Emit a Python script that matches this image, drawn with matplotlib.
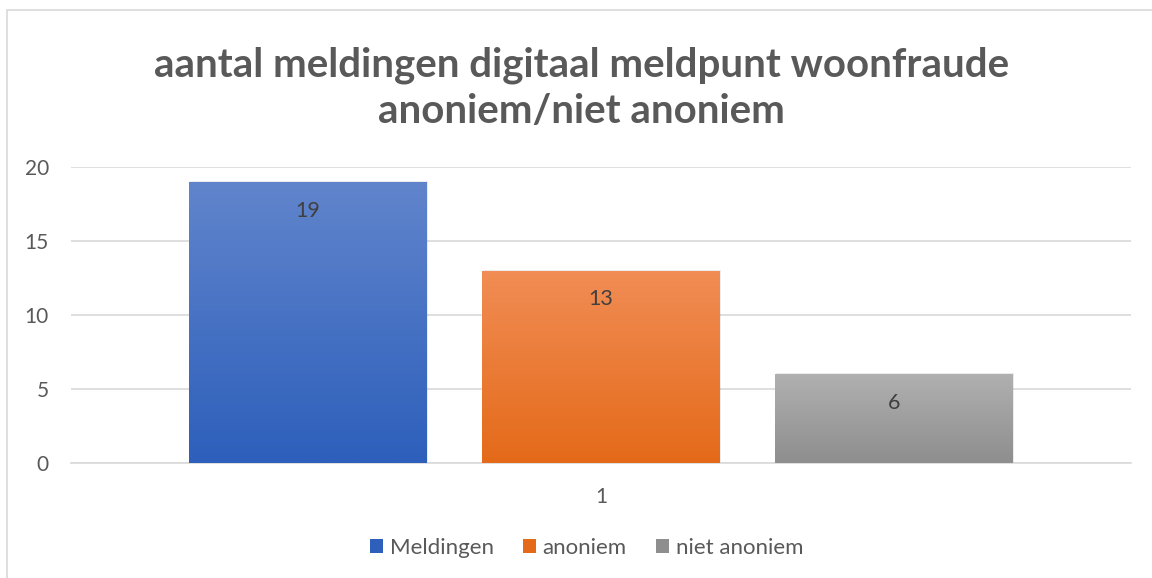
import matplotlib
matplotlib.use('Agg')
import matplotlib.pyplot as plt
import numpy as np
from matplotlib.patches import Rectangle

# data
series = ['Meldingen', 'anoniem', 'niet anoniem']
values = [19, 13, 6]
category = '1'
title = 'aantal meldingen digitaal meldpunt woonfraude\nanoniem/niet anoniem'

# gradient colours (top, bottom)
grad = [('#6185CC', '#2D5FBB'),
        ('#F18D55', '#E46A19'),
        ('#B0B0B0', '#8E8E8E')]

plt.rcParams['font.family'] = ['Lato', 'DejaVu Sans']
text_col = '#595959'

fig = plt.figure(figsize=(11.52, 5.78), dpi=100)
ax = fig.add_axes([71 / 1152, 1 - 463 / 578, 1060 / 1152, 296 / 578])

# chart border
fig.patches.append(Rectangle((7 / 1152, -0.1), 2, 1.1 - 10 / 578,
                             transform=fig.transFigure, fill=False,
                             edgecolor='#D9D9D9', linewidth=1.2))

pos = np.arange(len(series)) - 1
width = 238 / 293
bars = ax.bar(pos, values, width=width, color='none', zorder=3)

gradient = np.linspace(0, 1, 256).reshape(-1, 1)
for b, (top, bot), v, name in zip(bars, grad, values, series):
    cmap = matplotlib.colors.LinearSegmentedColormap.from_list('g', [bot, top])
    x0, y0 = b.get_x(), b.get_y()
    im = ax.imshow(gradient, cmap=cmap, aspect='auto', origin='lower',
                   extent=(x0, x0 + b.get_width(), y0, y0 + b.get_height()),
                   zorder=3)
    im.set_clip_path(b)
    # subtle shadow
    ax.add_patch(Rectangle((x0 + 0.004, y0), b.get_width(), b.get_height() + 0.05,
                           facecolor='#000000', alpha=0.08, edgecolor='none', zorder=2))
    ax.text(b.get_x() + b.get_width() / 2, v - 1.95, str(v), ha='center', va='center',
            fontsize=15.5, color='#404040', zorder=4)
    ax.bar(0, 0, color=bot, label=name)

ax.set_xlim(-530 / 293, 530 / 293)
ax.set_ylim(0, 20)
ax.set_yticks([0, 5, 10, 15, 20])
ax.set_xticks([0])
ax.set_xticklabels([category])
ax.yaxis.grid(True, color='#D9D9D9', linewidth=1.2, zorder=0)
ax.set_axisbelow(True)
for s in ['top', 'right', 'left']:
    ax.spines[s].set_visible(False)
ax.spines['bottom'].set_color('#D9D9D9')
ax.spines['bottom'].set_linewidth(1.2)
ax.tick_params(axis='both', length=0, labelsize=15, labelcolor=text_col)
ax.tick_params(axis='x', pad=17)
ax.tick_params(axis='y', pad=16)

fig.text(0.505, 1 - 88 / 578, title, ha='center', va='center', fontsize=29,
         fontweight='bold', color=text_col, linespacing=1.3)

leg = fig.legend(loc='center', bbox_to_anchor=(0.509, 1 - 548 / 578), ncol=3,
                 frameon=False, fontsize=16, handlelength=0.6, handleheight=0.6,
                 handletextpad=0.3, columnspacing=1.3, labelcolor=text_col)

fig.savefig('out.png', dpi=100)
